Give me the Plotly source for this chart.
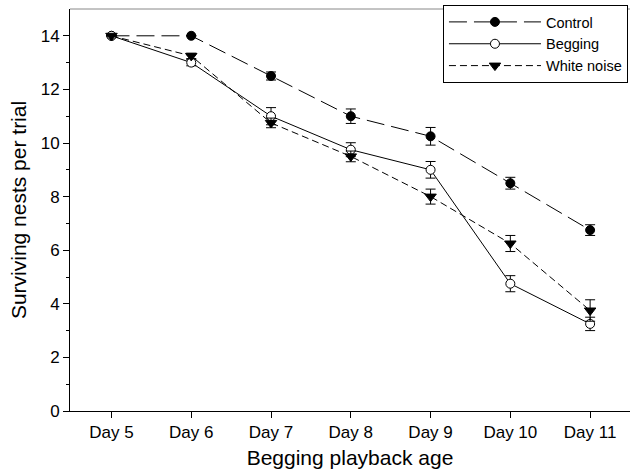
import plotly.graph_objects as go

days = ["Day 5", "Day 6", "Day 7", "Day 8", "Day 9", "Day 10", "Day 11"]

control = [14, 14, 12.5, 11.0, 10.25, 8.5, 6.75]
control_err = [0, 0, 0.15, 0.27, 0.33, 0.22, 0.2]

begging = [14, 13.0, 11.0, 9.75, 9.0, 4.75, 3.25]
begging_err = [0, 0.12, 0.32, 0.26, 0.31, 0.3, 0.25]

white_noise = [14, 13.25, 10.75, 9.5, 8.0, 6.25, 3.75]
white_noise_err = [0, 0.1, 0.18, 0.2, 0.28, 0.3, 0.4]

FONT = "Liberation Sans, Arial, sans-serif"

fig = go.Figure()

def add(name, y, err, dash, symbol, fill, size):
    fig.add_trace(go.Scatter(
        x=days, y=y, name=name, mode="lines+markers",
        line=dict(color="black", width=1, dash=dash),
        marker=dict(symbol=symbol, size=size, color=fill,
                    line=dict(color="black", width=1)),
        error_y=dict(type="data", array=err, visible=True,
                     color="black", thickness=1, width=5),
    ))

add("Control", control, control_err, "18px,7px", "circle", "black", 9)
add("Begging", begging, begging_err, "solid", "circle", "white", 9)
add("White noise", white_noise, white_noise_err, "7px,4px", "triangle-down", "black", 10)

fig.update_layout(
    width=630, height=476,
    margin=dict(l=70, r=0, t=9, b=65),
    paper_bgcolor="white", plot_bgcolor="white",
    font=dict(family=FONT, size=16, color="black"),
    showlegend=True,
    legend=dict(
        x=0.666, y=1.01, xanchor="left", yanchor="top",
        bgcolor="white", bordercolor="black", borderwidth=1,
        font=dict(family=FONT, size=14.5, color="black"),
        itemwidth=92, tracegroupgap=0,
    ),
    xaxis=dict(
        type="category", range=[-0.52, 6.5],
        showline=True, linecolor="black", linewidth=1,
        ticks="outside", ticklen=6, tickcolor="black",
        showgrid=False, zeroline=False,
        title=dict(text="Begging playback age", font=dict(size=21), standoff=8),
        tickfont=dict(size=17),
    ),
    yaxis=dict(
        range=[0, 15], tickvals=[0, 2, 4, 6, 8, 10, 12, 14],
        showline=True, linecolor="black", linewidth=1,
        ticks="outside", ticklen=6, tickcolor="black",
        minor=dict(tickvals=[1, 3, 5, 7, 9, 11, 13], ticks="outside", ticklen=3, tickcolor="black"),
        showgrid=False, zeroline=False,
        title=dict(text="Surviving nests per trial", font=dict(size=21), standoff=8),
        tickfont=dict(size=17),
    ),
    shapes=[dict(type="line", xref="paper", yref="paper", x0=0, x1=1, y0=1, y1=1,
                 line=dict(color="#888888", width=1))],
)

fig.write_html("out.html")
